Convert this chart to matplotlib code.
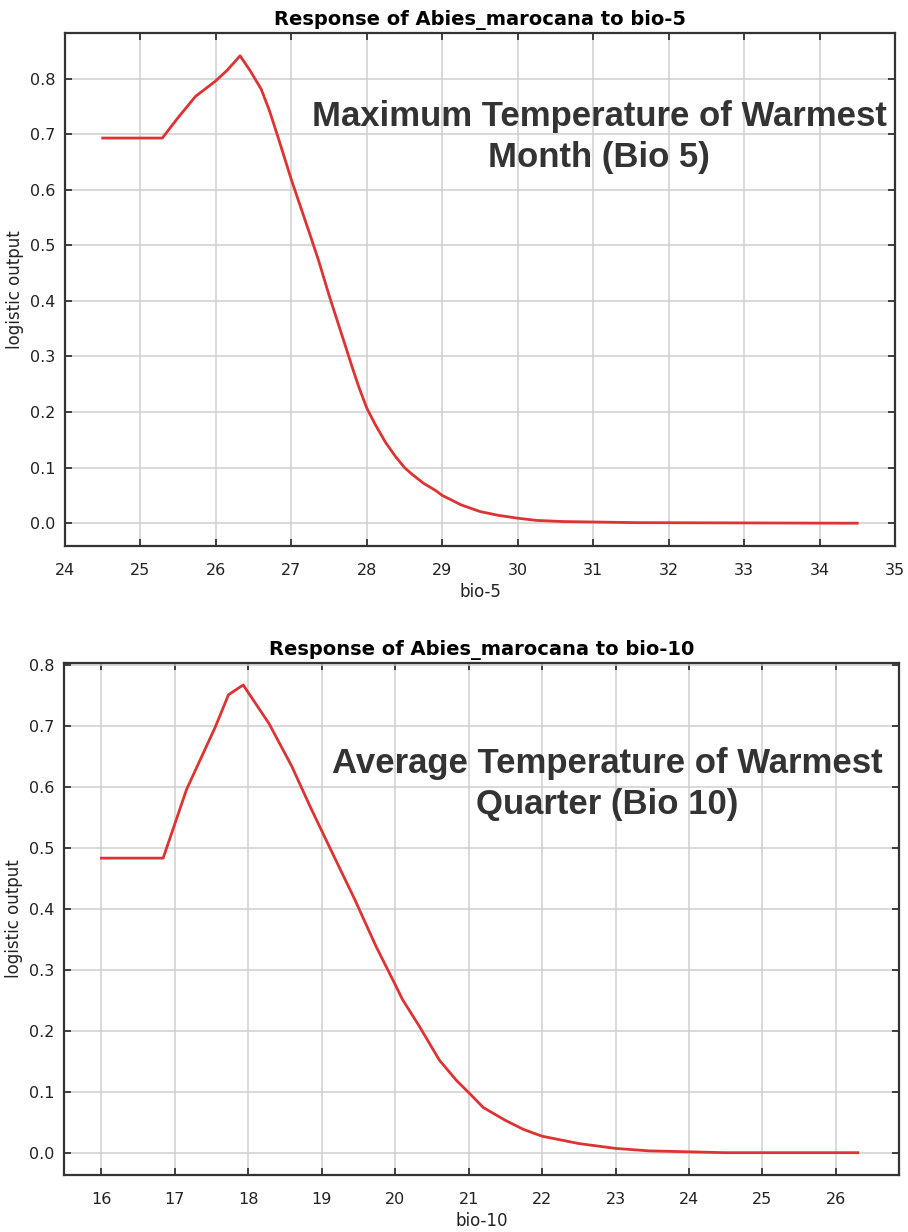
import matplotlib
matplotlib.use("Agg")
import matplotlib.pyplot as plt
from matplotlib.ticker import MultipleLocator, FormatStrFormatter

# ---- data ----
bio5_x = [24.5, 25.29, 25.5, 25.73, 25.99, 26.15, 26.32, 26.45, 26.6, 26.71, 26.82,
          27.0, 27.12, 27.24, 27.36, 27.5, 27.69, 27.82, 27.9, 28.0, 28.11, 28.25, 28.38,
          28.5, 28.6, 28.75, 28.91, 29.0, 29.25, 29.5, 29.75, 30.0, 30.25, 30.6, 31.6, 34.5]
bio5_y = [0.693, 0.693, 0.730, 0.768, 0.795, 0.815, 0.841, 0.815, 0.781, 0.742, 0.696,
          0.618, 0.570, 0.522, 0.473, 0.410, 0.330, 0.275, 0.243, 0.207, 0.178, 0.145, 0.120,
          0.100, 0.088, 0.072, 0.059, 0.050, 0.033, 0.021, 0.014, 0.009, 0.005, 0.003, 0.001, 0.0]

bio10_x = [16.0, 16.84, 17.16, 17.55, 17.73, 17.93, 18.28, 18.59, 18.84, 19.11, 19.45,
           19.74, 19.99, 20.1, 20.33, 20.6, 20.83, 21.03, 21.2, 21.5, 21.75, 22.0,
           22.5, 23.0, 23.45, 24.5, 26.3]
bio10_y = [0.483, 0.483, 0.596, 0.698, 0.751, 0.767, 0.704, 0.634, 0.568, 0.500, 0.415,
           0.338, 0.278, 0.251, 0.207, 0.152, 0.119, 0.095, 0.074, 0.053, 0.038, 0.027,
           0.015, 0.007, 0.003, 0.0, 0.0]

titles = ["Response of Abies_marocana to bio-5", "Response of Abies_marocana to bio-10"]
xlabels = ["bio-5", "bio-10"]
notes = ["Maximum Temperature of Warmest\nMonth (Bio 5)",
         "Average Temperature of Warmest\nQuarter (Bio 10)"]

W, H = 908, 1232
fig = plt.figure(figsize=(W / 100, H / 100), dpi=100)

def box(l, t, r, b):
    return [l / W, 1 - b / H, (r - l) / W, (b - t) / H]

ax1 = fig.add_axes(box(65, 33, 895, 546))
ax2 = fig.add_axes(box(64, 663, 899, 1175))

line_col = "#dd3333"
spine_col = "#333333"

def style(ax, xlim, ylim, title, xlabel):
    ax.set_xlim(*xlim)
    ax.set_ylim(*ylim)
    ax.xaxis.set_major_locator(MultipleLocator(1))
    ax.yaxis.set_major_locator(MultipleLocator(0.1))
    ax.yaxis.set_major_formatter(FormatStrFormatter("%.1f"))
    ax.grid(True, color="#cfcfcf", linewidth=1.1)
    ax.set_axisbelow(True)
    for s in ax.spines.values():
        s.set_color(spine_col)
        s.set_linewidth(1.6)
    ax.tick_params(axis="both", direction="in", length=5, width=1.3, color=spine_col,
                   top=True, right=True, labelsize=11.5, labelcolor="#222222")
    ax.tick_params(axis="x", pad=12)
    ax.tick_params(axis="y", pad=7)
    ax.set_title(title, fontsize=14, fontweight="bold", pad=6)
    ax.set_xlabel(xlabel, fontsize=12, color="#222222", labelpad=4)
    ax.set_ylabel("logistic output", fontsize=12, color="#222222", labelpad=4)

style(ax1, (24, 35), (-0.041, 0.882), titles[0], xlabels[0])
style(ax2, (15.49, 26.86), (-0.0366, 0.803), titles[1], xlabels[1])

ax1.plot(bio5_x, bio5_y, color=line_col, linewidth=2.0, solid_joinstyle="round")
ax2.plot(bio10_x, bio10_y, color=line_col, linewidth=2.0, solid_joinstyle="round")

# annotations, positioned in figure pixels
fig.text(599 / W, 1 - 137 / H, notes[0], ha="center", va="center",
         fontsize=25, fontweight="bold", color="#333333", family="Liberation Sans",
         linespacing=1.28)
fig.text(607 / W, 1 - 784 / H, notes[1], ha="center", va="center",
         fontsize=25, fontweight="bold", color="#333333", family="Liberation Sans",
         linespacing=1.28)

fig.savefig("out.png", dpi=100, facecolor="white")
